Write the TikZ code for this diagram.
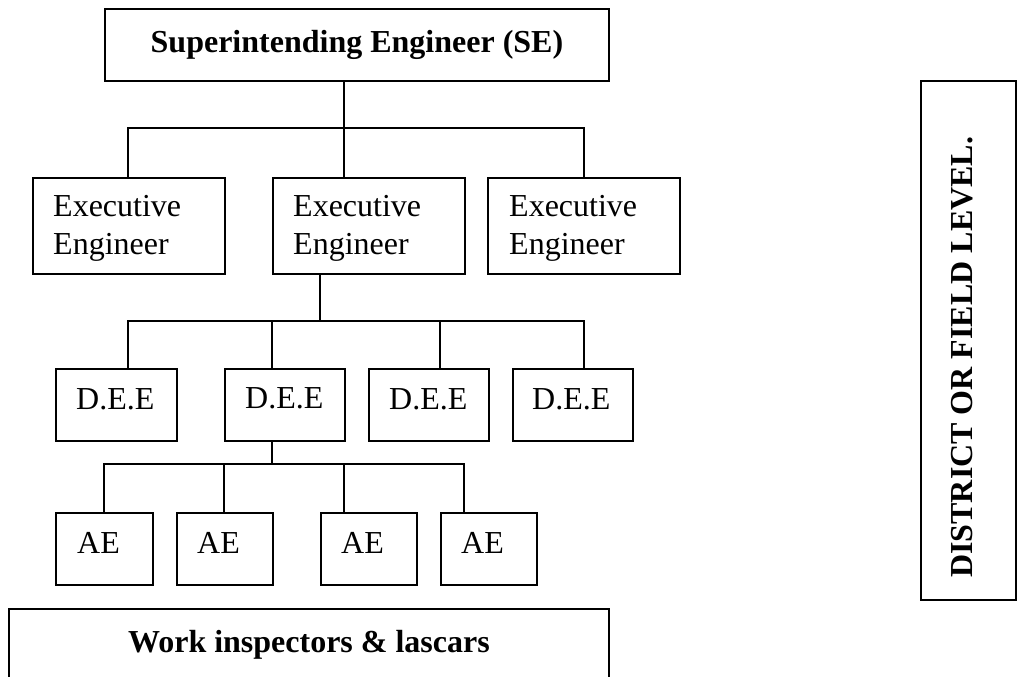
\documentclass[tikz,border=0pt]{standalone}
\usepackage{fontspec}
\setmainfont{Liberation Serif}
\begin{document}
\begin{tikzpicture}[x=1pt,y=1pt,
  box/.style={draw, line width=1.9pt, inner sep=0pt, anchor=north west},
  lbl/.style={inner sep=0pt, anchor=base west, align=left,
              font=\fontsize{32}{38}\selectfont},
  bold/.style={font=\fontsize{32}{38}\selectfont\bfseries},
  link/.style={line width=1.9pt}]
\clip (0,0) rectangle (1018,-677);
\fill[white] (0,0) rectangle (1018,-677);

% top of the chart
\node[box, bold, minimum width=504pt, minimum height=72pt] (se) at (104,-8)
  {Superintending Engineer (SE)};

% executive engineers (two-line labels are anchored on their last line)
\node[box, minimum width=192pt, minimum height=96pt] (ee1) at (32,-177) {};
\node[box, minimum width=192pt, minimum height=96pt] (ee2) at (272,-177) {};
\node[box, minimum width=192pt, minimum height=96pt] (ee3) at (487,-177) {};
\node[lbl] (ee1t) at ([xshift=21pt,yshift=-77pt]ee1.north west) {Executive\\Engineer};
\node[lbl] (ee2t) at ([xshift=21pt,yshift=-77pt]ee2.north west) {Executive\\Engineer};
\node[lbl] (ee3t) at ([xshift=22pt,yshift=-77pt]ee3.north west) {Executive\\Engineer};

% divisional executive engineers
\node[box, minimum width=121pt, minimum height=72pt] (dee1) at (55,-368) {};
\node[box, minimum width=120pt, minimum height=72pt] (dee2) at (224,-368) {};
\node[box, minimum width=120pt, minimum height=72pt] (dee3) at (368,-368) {};
\node[box, minimum width=120pt, minimum height=72pt] (dee4) at (512,-368) {};
\node[lbl] (dee1t) at ([xshift=21pt,yshift=-41pt]dee1.north west) {D.E.E};
\node[lbl] (dee2t) at ([xshift=21pt,yshift=-40pt]dee2.north west) {D.E.E};
\node[lbl] (dee3t) at ([xshift=21pt,yshift=-41pt]dee3.north west) {D.E.E};
\node[lbl] (dee4t) at ([xshift=20pt,yshift=-41pt]dee4.north west) {D.E.E};

% assistant engineers
\node[box, minimum width=97pt, minimum height=72pt] (ae1) at (55,-512) {};
\node[box, minimum width=96pt, minimum height=72pt] (ae2) at (176,-512) {};
\node[box, minimum width=96pt, minimum height=72pt] (ae3) at (320,-512) {};
\node[box, minimum width=96pt, minimum height=72pt] (ae4) at (440,-512) {};
\node[lbl] (ae1t) at ([xshift=22pt,yshift=-41pt]ae1.north west) {AE};
\node[lbl] (ae2t) at ([xshift=21pt,yshift=-41pt]ae2.north west) {AE};
\node[lbl] (ae3t) at ([xshift=21pt,yshift=-41pt]ae3.north west) {AE};
\node[lbl] (ae4t) at ([xshift=21pt,yshift=-41pt]ae4.north west) {AE};

% field staff
\node[box, bold, minimum width=600pt, minimum height=72pt] (wk) at (8,-608)
  {Work inspectors \& lascars};

% side label
\node[box, minimum width=95pt, minimum height=519pt] (lvl) at (920,-80) {};
\node[bold, inner sep=0pt, anchor=base west, rotate=90] (lvlt)
  at ([xshift=52pt,yshift=23pt]lvl.south west) {DISTRICT OR FIELD LEVEL.};

% junction points of the connectors
\coordinate (t1) at (344,-128);
\coordinate (b1a) at (128,-128);
\coordinate (b1c) at (584,-128);
\coordinate (t2) at (320,-321);
\coordinate (b2a) at (128,-321);
\coordinate (b2b) at (272,-321);
\coordinate (b2c) at (440,-321);
\coordinate (b2d) at (584,-321);
\coordinate (t3) at (272,-464);
\coordinate (b3a) at (104,-464);
\coordinate (b3b) at (224,-464);
\coordinate (b3c) at (344,-464);
\coordinate (b3d) at (464,-464);

% SE to executive engineers
\draw[link] (se.south -| t1) -- (t1) -- (t1 |- ee2.north);
\draw[link] (b1a |- ee1.north) -- (b1a) -- (b1c) -- (b1c |- ee3.north);

% executive engineer to D.E.E
\draw[link] (ee2.south -| t2) -- (t2);
\draw[link] (b2a |- dee1.north) -- (b2a) -- (b2d) -- (b2d |- dee4.north);
\draw[link] (b2b) -- (b2b |- dee2.north);
\draw[link] (b2c) -- (b2c |- dee3.north);

% D.E.E to AE
\draw[link] (dee2.south -| t3) -- (t3);
\draw[link] (b3a |- ae1.north) -- (b3a) -- (b3d) -- (b3d |- ae4.north);
\draw[link] (b3b) -- (b3b |- ae2.north);
\draw[link] (b3c) -- (b3c |- ae3.north);
\end{tikzpicture}
\end{document}
